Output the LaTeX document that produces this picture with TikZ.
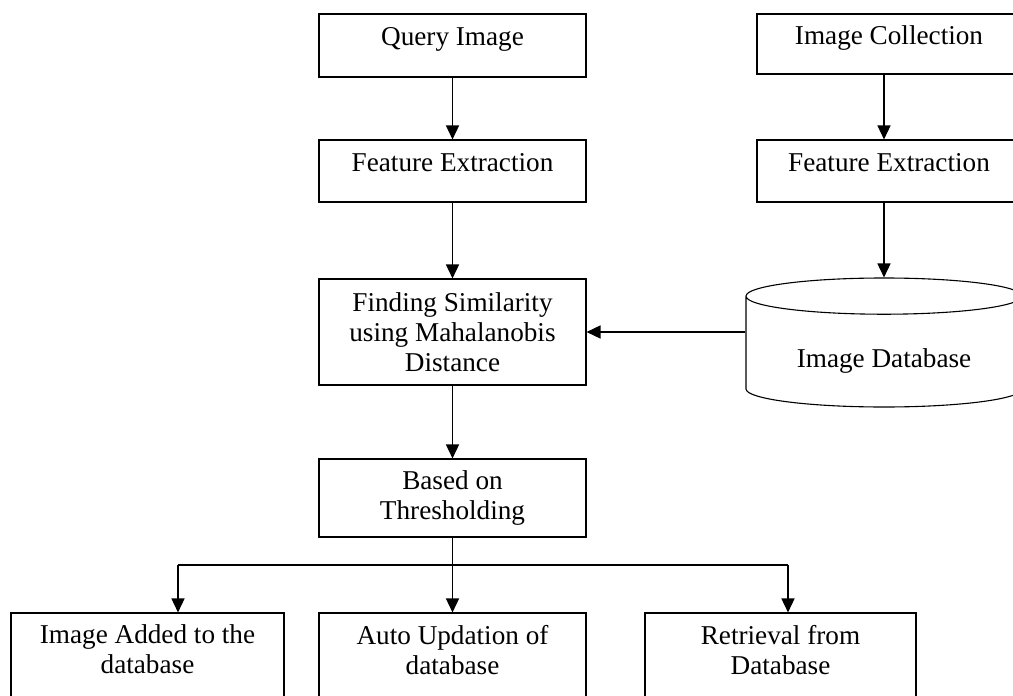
\documentclass[tikz,border=0pt]{standalone}
\usepackage{fontspec}
\setmainfont{Liberation Serif}
\usetikzlibrary{arrows.meta,positioning,shapes.geometric,calc}

\begin{document}
\begin{tikzpicture}[x=1pt, y=-1pt,
    box/.style={draw, line width=1.1pt, inner sep=0pt, align=center,
      font=\fontsize{27.2}{30}\selectfont, minimum width=267pt},
    onebox/.style={box, text height=19pt, text depth=19pt},
    leaf/.style={box, text depth=19pt, minimum height=92pt},
    store/.style={draw, line width=1.1pt, cylinder, shape border rotate=90,
      aspect=0.2, font=\fontsize{27.2}{30}\selectfont,
      text height=33pt, text depth=6pt,
      minimum width=276pt, minimum height=129pt},
    arr/.style={-{Triangle[length=14pt, width=13pt]}, line width=1.5pt},
  ]
    \fill[white] (0,0) rectangle (1013,696);
    \useasboundingbox (0,0) rectangle (1013,696);

    % Query side
    \node[onebox, minimum height=63pt] (qry) at (452.5, 45.5) {Query Image};
    \node[onebox, minimum height=62pt] (fe1) at (452.5, 171) {Feature Extraction};
    \node[box, minimum height=106pt] (sim) at (452.5, 332)
      {Finding Similarity\\using Mahalanobis\\Distance};
    \node[box, minimum height=78pt] (thr) at (452.5, 498) {Based on\\Thresholding};

    % Collection side
    \node[onebox, minimum width=264pt, minimum height=60pt] (col) at (889, 44) {Image Collection};
    \node[onebox, minimum width=264pt, minimum height=62pt] (fe2) at (889, 171) {Feature Extraction};
    \node[store, anchor=shape center] (db) at (884, 342.5) {Image Database};

    % Results
    \node[leaf, minimum width=273pt] (add) at (147.5, 659) {Image Added to the\\database};
    \node[leaf] (upd) at (452.5, 659) {Auto Updation of\\database};
    \node[leaf, minimum width=271pt] (ret) at (780.5, 659) {Retrieval from\\Database};

    \coordinate (splitl) at (178, 565);
    \coordinate (splitr) at (788, 565);

    % Arrows
    \draw[arr] (qry) -- (fe1);
    \draw[arr] (fe1) -- (sim);
    \draw[arr] ([xshift=-5pt]col.south) -- ([xshift=-5pt]fe2.north);
    \draw[arr] ([xshift=-5pt]fe2.south) -- (db.north);
    \draw[arr] (sim.east -| db.west) -- (sim.east);
    \draw[arr] (sim) -- (thr);
    \draw[line width=1.5pt] (thr.south) -- (thr.south |- splitl);
    \draw[line width=1.5pt] (splitl) -- (splitr);
    \draw[arr] (splitl) -- (splitl |- add.north);
    \draw[arr] (thr.south |- splitl) -- (upd.north);
    \draw[arr] (splitr) -- (splitr |- ret.north);
  \end{tikzpicture}
\end{document}
